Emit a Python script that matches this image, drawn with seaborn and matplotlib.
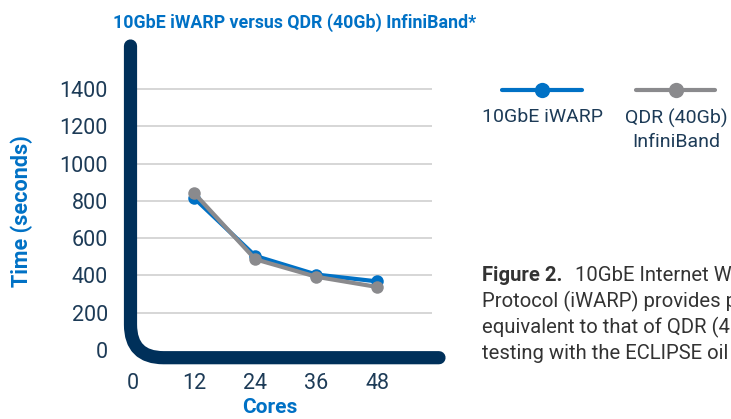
import matplotlib
matplotlib.use("Agg")
import matplotlib.pyplot as plt
from matplotlib.path import Path
from matplotlib.patches import PathPatch
from matplotlib.lines import Line2D
import seaborn as sns
import pandas as pd

# ---- data ----
cores = [12, 24, 36, 48]
iwarp = [815, 505, 405, 368]
qdr = [842, 487, 393, 338]
series_names = ["10GbE iWARP", "QDR (40Gb)\nInfiniBand"]
yticks = [0, 200, 400, 600, 800, 1000, 1200, 1400]
xticks = [0, 12, 24, 36, 48]
title = "10GbE iWARP versus QDR (40Gb) InfiniBand*"
xlabel = "Cores"
ylabel = "Time (seconds)"
caption_bold = "Figure 2."
caption_lines = [
    "10GbE Internet Wide Area RDMA",
    "Protocol (iWARP) provides performance",
    "equivalent to that of QDR (40Gb) InfiniBand* in",
    "testing with the ECLIPSE oil and gas simulator.",
]

BLUE = "#0071c5"
GREY = "#8a8a8d"
NAVY = "#00305a"
TICK = "#1d3b57"
TEXT = "#333333"

sns.set_theme(style="white")
plt.rcParams["font.family"] = ["Roboto", "DejaVu Sans"]

W, H = 731, 419
fig = plt.figure(figsize=(W / 100, H / 100), dpi=100)

def fx(px):
    return px / W

def fy(py):
    return (H - py) / H

ax_left, ax_right = 133, 432
ax_top, ax_bot = 70.4, 357.5
ax = fig.add_axes([fx(ax_left), fy(ax_bot), fx(ax_right - ax_left), (ax_bot - ax_top) / H])

df = pd.DataFrame({
    "Cores": cores * 2,
    "Time": iwarp + qdr,
    "Series": [series_names[0]] * len(cores) + [series_names[1]] * len(cores),
})
sns.lineplot(data=df, x="Cores", y="Time", hue="Series", palette=[BLUE, GREY],
             marker="o", markersize=9, markeredgewidth=0, linewidth=3,
             legend=False, ax=ax, zorder=3)

ax.set_xlim(0, 58.7)
ax.set_ylim(-40, 1500)
ax.set_xticks(xticks)
ax.set_yticks(yticks)
ax.set_xticklabels([str(t) for t in xticks])
ax.set_yticklabels([str(t) for t in yticks])
ax.tick_params(axis="both", length=0, labelsize=15.5, colors=TICK)
ax.tick_params(axis="y", pad=18)
ax.tick_params(axis="x", pad=11)
for s in ax.spines.values():
    s.set_visible(False)
ax.yaxis.grid(True, color="#d0d0d0", linewidth=1.2)
ax.xaxis.grid(False)
ax.yaxis.get_gridlines()[0].set_visible(False)
ax.set_facecolor("none")

ax.set_xlabel(xlabel, fontsize=15, color=BLUE, fontweight="bold")
ax.set_ylabel(ylabel, fontsize=15.5, color=BLUE, fontweight="bold")
ax.xaxis.label.set_va("center")
ax.yaxis.label.set_va("center")
ax.xaxis.set_label_coords((270 - ax_left) / (ax_right - ax_left), -(407 - ax_bot) / (ax_bot - ax_top))
ax.yaxis.set_label_coords((22 - ax_left) / (ax_right - ax_left), (ax_bot - 211) / (ax_bot - ax_top))

# rounded L-shaped axis
vx, hy, r = 130.5, 357.7, 33
verts = [(fx(vx), fy(46)), (fx(vx), fy(hy - r)), (fx(vx), fy(hy)), (fx(vx + r), fy(hy)), (fx(439), fy(hy))]
codes = [Path.MOVETO, Path.LINETO, Path.CURVE3, Path.CURVE3, Path.LINETO]
fig.add_artist(PathPatch(Path(verts, codes), fill=False, edgecolor=NAVY, linewidth=9.5,
                         capstyle="round", joinstyle="round", transform=fig.transFigure, zorder=5))

# title
fig.text(fx(295), fy(23), title, ha="center", va="center", fontsize=12.8, color=BLUE,
         fontweight="bold", family=["Liberation Sans Narrow", "Roboto", "DejaVu Sans"])

# legend (manual)
for (x0, x1, xm), col in zip([(502, 582, 542), (636, 715, 676)], [BLUE, GREY]):
    fig.add_artist(Line2D([fx(x0), fx(x1)], [fy(90), fy(90)], color=col, lw=3, solid_capstyle="round",
                          transform=fig.transFigure))
    fig.add_artist(Line2D([fx(xm)], [fy(90)], color=col, marker="o", markersize=11, markeredgewidth=0,
                          transform=fig.transFigure))
fig.text(fx(543), fy(117), series_names[0], ha="center", va="center", fontsize=14, color=TICK)
fig.text(fx(676), fy(130), series_names[1], ha="center", va="center", fontsize=14, color=TICK,
         linespacing=1.3)

# caption
cy = [275, 301, 327, 353]
fig.text(fx(482), fy(cy[0]), caption_bold, ha="left", va="center", fontsize=14.6, color=TEXT, fontweight="bold")
fig.text(fx(575), fy(cy[0]), caption_lines[0], ha="left", va="center", fontsize=14.6, color=TEXT)
for y, line in zip(cy[1:], caption_lines[1:]):
    fig.text(fx(482), fy(y), line, ha="left", va="center", fontsize=14.6, color=TEXT)

fig.savefig("out.png", dpi=100)
